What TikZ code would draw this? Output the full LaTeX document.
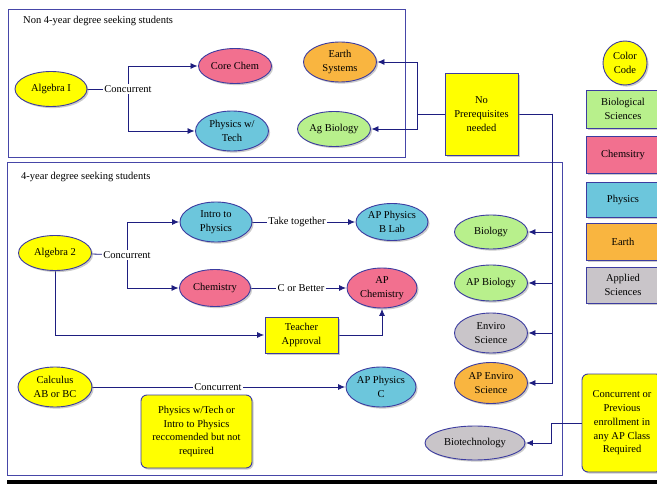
\documentclass[tikz,border=0pt]{standalone}
\usepackage{fontspec}
\setmainfont{Liberation Serif}
\usetikzlibrary{shapes.geometric,shadows,arrows.meta,backgrounds}
\definecolor{cyel}{HTML}{FFFF00}
\definecolor{cpink}{HTML}{F2708F}
\definecolor{cblue}{HTML}{6CC6DC}
\definecolor{corange}{HTML}{F9B540}
\definecolor{cgreen}{HTML}{B8F08C}
\definecolor{cgrey}{HTML}{C9C5C9}
\definecolor{cborder}{HTML}{3C3CA0}
\definecolor{cline}{HTML}{1E1E80}
\definecolor{cframe}{HTML}{4646A8}
\begin{document}
\begin{tikzpicture}[x=1pt,y=-1pt,
  every node/.style={font=\fontsize{10.5}{13.8}\selectfont, align=center, text=black},
  shad/.style={drop shadow={shadow xshift=1.6pt,shadow yshift=-1.6pt,fill=black!40}},
  course/.style={ellipse, draw=cborder, line width=0.9pt, inner sep=0pt, shad},
  sqbox/.style={rectangle, draw=cborder, line width=0.9pt, inner sep=0pt, shad},
  rndbox/.style={sqbox, rounded corners=6pt},
  lbl/.style={fill=white, inner sep=1pt},
  title/.style={anchor=west, inner sep=0pt},
  conn/.style={draw=cline, line width=0.8pt},
  arr/.style={conn, -{Latex[length=7pt,width=6pt]}, shorten >=0.5pt},
  frame/.style={draw=cframe, line width=0.9pt}]
\useasboundingbox (0,0) rectangle (657,484);
\clip (0,0) rectangle (657,484);

% ---------- top group ----------
\node[course, fill=cyel, minimum width=72pt, minimum height=35pt] (alg1) at (51,89) {Algebra I};
\node[lbl] (conc1) at (128,89) {Concurrent};
\node[course, fill=cpink, minimum width=73pt, minimum height=35pt] (corechem) at (235,66) {Core Chem};
\node[course, fill=cblue, minimum width=73pt, minimum height=40pt] (phystech) at (232,131) {Physics w/\\Tech};
\node[course, fill=corange, minimum width=73pt, minimum height=40pt] (earthsys) at (340,62) {Earth\\Systems};
\node[course, fill=cgreen, minimum width=73pt, minimum height=35pt] (agbio) at (334,129) {Ag Biology};
\node[sqbox, fill=cyel, minimum width=73pt, minimum height=82pt] (noprereq) at (481.5,114) {No\\Prerequisites\\needed};
\node[title] (toptitle) at (23,21) {Non 4-year degree seeking students};

% ---------- legend ----------
\node[circle, draw=cborder, line width=0.9pt, inner sep=0pt, minimum size=44pt, fill=cyel, shad] (ccode) at (625,63) {Color\\Code};
\node[sqbox, fill=cgreen, minimum width=74pt, minimum height=38pt] (legbio) at (623,109) {Biological\\Sciences};
\node[sqbox, fill=cpink, minimum width=74pt, minimum height=37pt] (legchem) at (623,154.5) {Chemsitry};
\node[sqbox, fill=cblue, minimum width=74pt, minimum height=35pt] (legphys) at (623,199.5) {Physics};
\node[sqbox, fill=corange, minimum width=74pt, minimum height=37pt] (legearth) at (623,241.5) {Earth};
\node[sqbox, fill=cgrey, minimum width=74pt, minimum height=36pt] (legapp) at (623,285) {Applied\\Sciences};

% ---------- bottom group ----------
\node[title] (bottitle) at (21,177) {4-year degree seeking students};
\node[course, fill=cyel, minimum width=73pt, minimum height=35pt] (alg2) at (55,253) {Algebra 2};
\node[lbl] (conc2) at (127,255) {Concurrent};
\node[course, fill=cblue, minimum width=72pt, minimum height=40pt] (intro) at (216,222) {Intro to\\Physics};
\node[lbl] (take) at (297,222) {Take together};
\node[course, fill=cblue, minimum width=72pt, minimum height=37pt] (apb) at (392,222) {AP Physics\\B Lab};
\node[course, fill=cpink, minimum width=71pt, minimum height=37pt] (chem) at (215,288) {Chemistry};
\node[lbl] (cbetter) at (301,288) {C or Better};
\node[course, fill=cpink, minimum width=70pt, minimum height=40pt] (apchem) at (382,288) {AP\\Chemistry};
\node[sqbox, fill=cyel, minimum width=73pt, minimum height=36pt] (teacher) at (301.5,335) {Teacher\\Approval};
\node[course, fill=cyel, minimum width=74pt, minimum height=40pt] (calc) at (55,387) {Calculus\\AB or BC};
\node[lbl] (conc3) at (218,387) {Concurrent};
\node[course, fill=cblue, minimum width=70pt, minimum height=40pt] (apc) at (381,387) {AP Physics\\C};
\node[rndbox, fill=cyel, minimum width=111pt, minimum height=73pt] (recbox) at (196.5,431.5) {Physics w/Tech or\\Intro to Physics\\reccomended but not\\required};

\node[course, fill=cgreen, minimum width=73pt, minimum height=34pt] (biology) at (491,232) {Biology};
\node[course, fill=cgreen, minimum width=73pt, minimum height=36pt] (apbio) at (491,283) {AP Biology};
\node[course, fill=cgrey, minimum width=73pt, minimum height=40pt] (enviro) at (491,333) {Enviro\\Science};
\node[course, fill=corange, minimum width=73pt, minimum height=41pt] (apenviro) at (491,383) {AP Enviro\\Science};
\node[course, fill=cgrey, minimum width=100pt, minimum height=34pt] (biotech) at (475,443) {Biotechnology};
\node[rndbox, fill=cyel, minimum width=80pt, minimum height=98pt] (apreq) at (622,423) {Concurrent or\\Previous\\enrollment in\\any AP Class\\Required};

\coordinate (j1) at (417,114);
\coordinate (j2) at (552,114);
\coordinate (j3) at (551,423);

\begin{scope}[on background layer]
  \fill[white] (0,0) rectangle (657,484);
  \draw[frame] (8,9) rectangle (405,157);
  \draw[frame] (7,162) rectangle (562,475);
  \fill[black] (7,479.5) rectangle (657,484);
  % top
  \draw[conn] (alg1) -- (conc1);
  \draw[arr] (conc1.center) |- (corechem);
  \draw[arr] (conc1.center) |- (phystech);
  \draw[conn] (noprereq.west) -- (j1);
  \draw[arr] (j1) |- (earthsys);
  \draw[arr] (j1) |- (agbio);
  \draw[conn] (noprereq.east) -- (j2);
  \draw[arr] (j2) |- (biology);
  \draw[arr] (j2) |- (apbio);
  \draw[arr] (j2) |- (enviro);
  \draw[arr] (j2) |- (apenviro);
  % bottom
  \draw[conn] (alg2) -- (conc2);
  \draw[arr] (conc2.center) |- (intro);
  \draw[arr] (conc2.center) |- (chem);
  \draw[conn] (intro) -- (take);
  \draw[arr] (take) -- (apb);
  \draw[conn] (chem) -- (cbetter);
  \draw[arr] (cbetter) -- (apchem);
  \draw[arr] (alg2.south) |- (teacher);
  \draw[arr] (teacher.east) -| (apchem.south);
  \draw[conn] (calc) -- (conc3);
  \draw[arr] (conc3) -- (apc);
  \draw[conn] (apreq.west) -- (j3);
  \draw[arr] (j3) |- (biotech);
\end{scope}
\end{tikzpicture}
\end{document}
